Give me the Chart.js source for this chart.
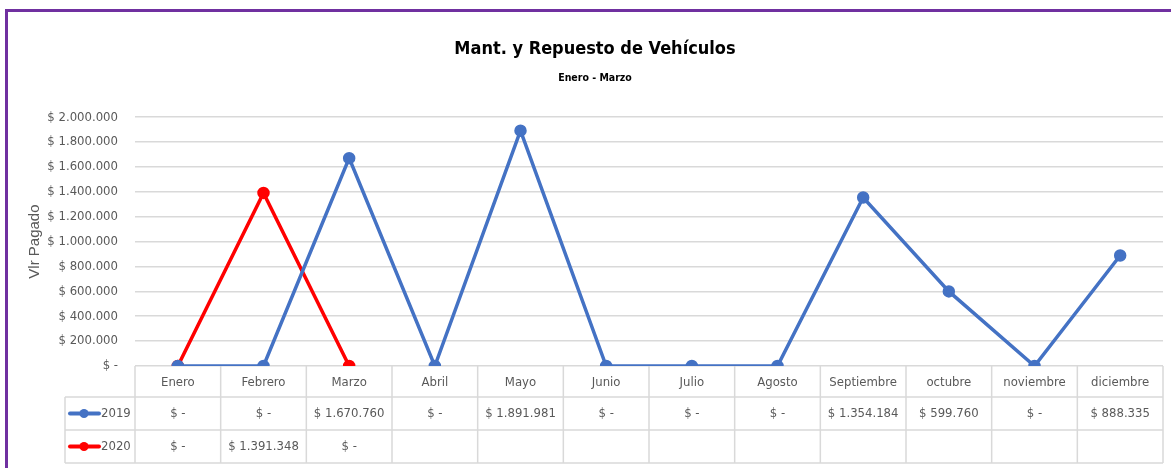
<!DOCTYPE html>
<html>
<head>
<meta charset="utf-8">
<script src="https://cdn.jsdelivr.net/npm/chart.js@4"></script>
<style>
  html, body { margin: 0; padding: 0; background: #fff; }
  canvas { display: block; }
</style>
</head>
<body>
<canvas id="chart" width="1171" height="468"></canvas>
<script>
// data
const months = ['Enero', 'Febrero', 'Marzo', 'Abril', 'Mayo', 'Junio', 'Julio', 'Agosto',
                'Septiembre', 'octubre', 'noviembre', 'diciembre'];
const values2019 = [0, 0, 1670760, 0, 1891981, 0, 0, 0, 1354184, 599760, 0, 888335];
const values2020 = [0, 1391348, 0, null, null, null, null, null, null, null, null, null];
const seriesNames = ['2019', '2020'];
const seriesColors = ['#4472C4', '#FF0000'];

const NARROW = "'Liberation Sans Narrow', 'DejaVu Sans Condensed', 'Roboto', sans-serif";
const TEXT_GRAY = '#595959';
const LINE_GRAY = '#D9D9D9';

function formatPeso(v) {
    if (v === null || v === undefined) return '';
    if (v === 0) return '$ -';
    return '$ ' + Math.round(v).toString().replace(/\B(?=(\d{3})+(?!\d))/g, '.');
}

// purple frame + data table under the plot
const tablePlugin = {
    id: 'dataTable',
    beforeDraw(chart) {
        const ctx = chart.ctx;
        ctx.save();
        ctx.fillStyle = '#7030A0';
        ctx.fillRect(5, 9, chart.width - 5, 3);
        ctx.fillRect(5, 9, 3, chart.height - 9);
        ctx.restore();
    },
    afterDraw(chart) {
        const ctx = chart.ctx;
        const area = chart.chartArea;
        const x = chart.scales.x;
        const colW = (area.right - area.left) / months.length;
        const rowH = [31, 33, 33];
        const top = area.bottom;
        const legendLeft = 65;
        const rows = [top, top + rowH[0], top + rowH[0] + rowH[1], top + rowH[0] + rowH[1] + rowH[2]];

        ctx.save();
        ctx.strokeStyle = LINE_GRAY;
        ctx.lineWidth = 1.5;
        ctx.beginPath();
        for (let r = 1; r < rows.length; r++) {
            ctx.moveTo(legendLeft, rows[r]);
            ctx.lineTo(area.right, rows[r]);
        }
        for (let i = 0; i <= months.length; i++) {
            const lx = area.left + i * colW;
            ctx.moveTo(lx, rows[0]);
            ctx.lineTo(lx, rows[3]);
        }
        ctx.moveTo(legendLeft, rows[1]);
        ctx.lineTo(legendLeft, rows[3]);
        ctx.stroke();

        ctx.font = '13px ' + NARROW;
        ctx.fillStyle = TEXT_GRAY;
        ctx.textAlign = 'center';
        ctx.textBaseline = 'middle';
        months.forEach((m, i) => {
            ctx.fillText(m, x.getPixelForValue(i), (rows[0] + rows[1]) / 2 + 1);
        });

        [values2019, values2020].forEach((vals, s) => {
            const cy = (rows[s + 1] + rows[s + 2]) / 2;
            vals.forEach((v, i) => {
                ctx.fillStyle = TEXT_GRAY;
                ctx.fillText(formatPeso(v), x.getPixelForValue(i), cy);
            });
            // legend key
            ctx.strokeStyle = seriesColors[s];
            ctx.lineWidth = 4;
            ctx.lineCap = 'round';
            ctx.beginPath();
            ctx.moveTo(70, cy);
            ctx.lineTo(99, cy);
            ctx.stroke();
            ctx.fillStyle = seriesColors[s];
            ctx.beginPath();
            ctx.arc(84, cy, 4.5, 0, Math.PI * 2);
            ctx.fill();
            ctx.fillStyle = TEXT_GRAY;
            ctx.textAlign = 'left';
            ctx.fillText(seriesNames[s], 101, cy);
            ctx.textAlign = 'center';
        });
        ctx.restore();
    }
};

new Chart(document.getElementById('chart'), {
    type: 'line',
    data: {
        labels: months,
        datasets: [
            {
                label: seriesNames[0],
                data: values2019,
                borderColor: seriesColors[0],
                backgroundColor: seriesColors[0],
                borderWidth: 3.5,
                pointRadius: 4.5,
                pointHoverRadius: 4.5,
                tension: 0
            },
            {
                label: seriesNames[1],
                data: values2020,
                borderColor: seriesColors[1],
                backgroundColor: seriesColors[1],
                borderWidth: 3.5,
                pointRadius: 4.5,
                pointHoverRadius: 4.5,
                tension: 0
            }
        ]
    },
    options: {
        responsive: false,
        animation: false,
        layout: { padding: { top: 12, left: 22, right: 3, bottom: 102 } },
        plugins: {
            legend: { display: false },
            tooltip: { enabled: false },
            title: {
                display: true,
                text: 'Mant. y Repuesto de Vehículos',
                color: '#000',
                font: { family: NARROW, size: 18, weight: 'bold' },
                padding: { top: 27, bottom: 6 }
            },
            subtitle: {
                display: true,
                text: 'Enero - Marzo',
                color: '#000',
                font: { family: NARROW, size: 10.5, weight: 'bold' },
                padding: { top: 5, bottom: 33 }
            }
        },
        scales: {
            x: {
                display: false,
                offset: true
            },
            y: {
                min: 0,
                max: 2000000,
                afterFit(scale) { scale.width = 113; },
                border: { display: false },
                grid: { color: LINE_GRAY, lineWidth: 1.5, drawTicks: false },
                ticks: {
                    stepSize: 200000,
                    color: TEXT_GRAY,
                    padding: 17,
                    font: { family: NARROW, size: 13 },
                    callback: v => formatPeso(v)
                },
                title: {
                    display: true,
                    text: 'Vlr Pagado',
                    color: TEXT_GRAY,
                    font: { family: "'Liberation Sans', Arial, sans-serif", size: 15 },
                    padding: { top: 4, bottom: 0 }
                }
            }
        }
    },
    plugins: [tablePlugin]
});
</script>
</body>
</html>
